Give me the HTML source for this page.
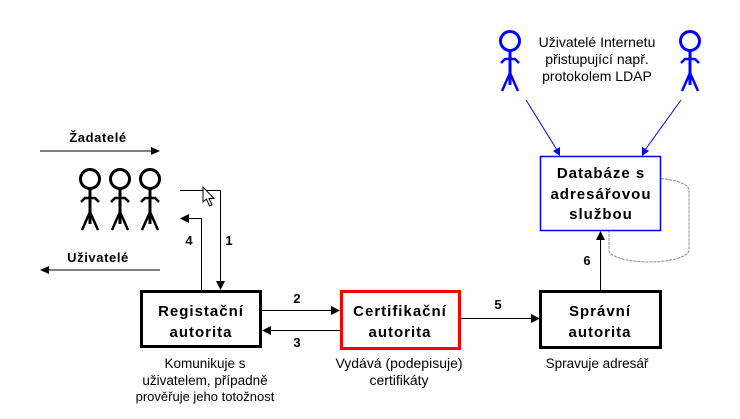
<!DOCTYPE html>
<html><head><meta charset="utf-8"><style>
html,body{margin:0;padding:0;background:#fff;}
svg{display:block;}
text{font-family:"Liberation Sans",Arial,sans-serif;}
.b{font-weight:bold;font-size:15px;letter-spacing:1px;}
.n{font-weight:bold;font-size:13px;}
.s{font-size:13.5px;}
</style></head><body>
<svg width="740" height="419" viewBox="0 0 740 419" xmlns="http://www.w3.org/2000/svg">
<rect width="740" height="419" fill="#fff"/>
<!-- cylinder -->
<g fill="none" stroke="#8a8a8a" stroke-width="1" stroke-dasharray="3,1">
<path d="M609 190 A40 12 0 0 1 689 190 L689 250 A40 12 0 0 1 609 250 Z"/>
</g>
<!-- database box -->
<rect x="540.5" y="156.5" width="120" height="74" fill="#fff" stroke="#0000ff" stroke-width="1.5"/>
<text class="b" x="601" y="178" text-anchor="middle">Databáze s</text>
<text class="b" x="601" y="199" text-anchor="middle">adresářovou</text>
<text class="b" x="601" y="219" text-anchor="middle">službou</text>

<!-- black figures -->
<g fill="none" stroke="#000" stroke-width="3">
<g>
<circle cx="90" cy="179" r="9.5"/>
<line x1="90" y1="188" x2="90" y2="224"/>
<polyline points="81,202 85,198 95,198 99,202" stroke-width="2.5"/>
<polyline points="82,230 90,212 98,230" stroke-width="2.5"/>
</g>
<g transform="translate(30,0)">
<circle cx="90" cy="179" r="9.5"/>
<line x1="90" y1="188" x2="90" y2="224"/>
<polyline points="81,202 85,198 95,198 99,202" stroke-width="2.5"/>
<polyline points="82,230 90,212 98,230" stroke-width="2.5"/>
</g>
<g transform="translate(60,0)">
<circle cx="90" cy="179" r="9.5"/>
<line x1="90" y1="188" x2="90" y2="224"/>
<polyline points="81,202 85,198 95,198 99,202" stroke-width="2.5"/>
<polyline points="82,230 90,212 98,230" stroke-width="2.5"/>
</g>
</g>

<!-- blue figures -->
<g fill="none" stroke="#0000ff" stroke-width="3">
<g>
<circle cx="510" cy="41" r="9.5"/>
<line x1="510" y1="50" x2="510" y2="85"/>
<polyline points="501,63 505,59 515,59 519,63" stroke-width="2.5"/>
<polyline points="502,91 510,73 518,91" stroke-width="2.5"/>
</g>
<g transform="translate(180,0)">
<circle cx="510" cy="41" r="9.5"/>
<line x1="510" y1="50" x2="510" y2="85"/>
<polyline points="501,63 505,59 515,59 519,63" stroke-width="2.5"/>
<polyline points="502,91 510,73 518,91" stroke-width="2.5"/>
</g>
</g>
<text class="s" x="597" y="47" text-anchor="middle" style="font-size:14px">Uživatelé Internetu</text>
<text class="s" x="597" y="64" text-anchor="middle" style="font-size:14px">přistupující např.</text>
<text class="s" x="597" y="81" text-anchor="middle" style="font-size:14px">protokolem LDAP</text>
<!-- blue arrows -->
<g stroke="#0000ff" stroke-width="1">
<line x1="526" y1="100" x2="557" y2="150"/>
<line x1="681" y1="100" x2="645" y2="150"/>
</g>
<polygon points="560,156 553,151 560,147" fill="#0000ff"/>
<polygon points="642,156 642,147 649,151" fill="#0000ff"/>

<!-- Žadatelé / Uživatelé arrows -->
<text class="n" x="98" y="142" text-anchor="middle" style="letter-spacing:0.6px">Žadatelé</text>
<line x1="40" y1="151" x2="152" y2="151" stroke="#000" stroke-width="1"/>
<polygon points="160,151 151,147 151,155" fill="#000"/>
<text class="n" x="98" y="262" text-anchor="middle" style="letter-spacing:0.6px">Uživatelé</text>
<line x1="48" y1="270" x2="160" y2="270" stroke="#000" stroke-width="1"/>
<polygon points="40,270 49,266 49,274" fill="#000"/>

<!-- line 1 -->
<polyline points="180,190.5 220.5,190.5 220.5,282" fill="none" stroke="#000" stroke-width="1"/>
<polygon points="220.5,290 216,281 225,281" fill="#000"/>
<!-- cursor -->
<polygon points="203,187 203,202 206.5,199 209.5,206 212,205 209,198.5 214,198.5" fill="#fff" stroke="#000" stroke-width="1"/>
<!-- line 4 -->
<polyline points="201.5,290 201.5,218.5 188,218.5" fill="none" stroke="#000" stroke-width="1"/>
<polygon points="180,218.5 189,214 189,223" fill="#000"/>
<text class="n" x="229" y="245" text-anchor="middle">1</text>
<text class="n" x="189" y="245" text-anchor="middle">4</text>

<!-- Registrační -->
<rect x="141.5" y="291.5" width="119" height="55" fill="#fff" stroke="#000" stroke-width="3"/>
<text class="b" x="201" y="316" text-anchor="middle">Registační</text>
<text class="b" x="201" y="337" text-anchor="middle">autorita</text>
<text class="s" x="205" y="368" text-anchor="middle">Komunikuje s</text>
<text class="s" x="205" y="385" text-anchor="middle">uživatelem, případně</text>
<text class="s" x="205" y="401" text-anchor="middle" style="font-size:13px">prověřuje jeho totožnost</text>

<!-- arrows 2 / 3 -->
<line x1="262" y1="310.5" x2="332" y2="310.5" stroke="#000" stroke-width="1"/>
<polygon points="340,310.5 331,306 331,315" fill="#000"/>
<line x1="270" y1="330.5" x2="340" y2="330.5" stroke="#000" stroke-width="1"/>
<polygon points="262,330.5 271,326 271,335" fill="#000"/>
<text class="n" x="297" y="303" text-anchor="middle">2</text>
<text class="n" x="297" y="347" text-anchor="middle">3</text>

<!-- Certifikační -->
<rect x="341.5" y="291.5" width="118" height="57" fill="#fff" stroke="#ff0000" stroke-width="3"/>
<text class="b" x="400" y="316" text-anchor="middle">Certifikační</text>
<text class="b" x="400" y="337" text-anchor="middle">autorita</text>
<text class="s" x="399" y="368" text-anchor="middle" style="font-size:14px">Vydává (podepisuje)</text>
<text class="s" x="399" y="385" text-anchor="middle" style="font-size:14px">certifikáty</text>

<!-- arrow 5 -->
<line x1="461" y1="318.5" x2="532" y2="318.5" stroke="#000" stroke-width="1"/>
<polygon points="540,318.5 531,314 531,323" fill="#000"/>
<text class="n" x="498" y="309" text-anchor="middle">5</text>

<!-- Správní -->
<rect x="540.5" y="291.5" width="120" height="56" fill="#fff" stroke="#000" stroke-width="3"/>
<text class="b" x="600" y="316" text-anchor="middle">Správní</text>
<text class="b" x="600" y="337" text-anchor="middle">autorita</text>
<text class="s" x="597" y="368" text-anchor="middle">Spravuje adresář</text>

<!-- arrow 6 -->
<line x1="600.5" y1="290" x2="600.5" y2="239" stroke="#000" stroke-width="1"/>
<polygon points="600.5,231 596,240 605,240" fill="#000"/>
<text class="n" x="587" y="265" text-anchor="middle">6</text>
</svg>
</body></html>
